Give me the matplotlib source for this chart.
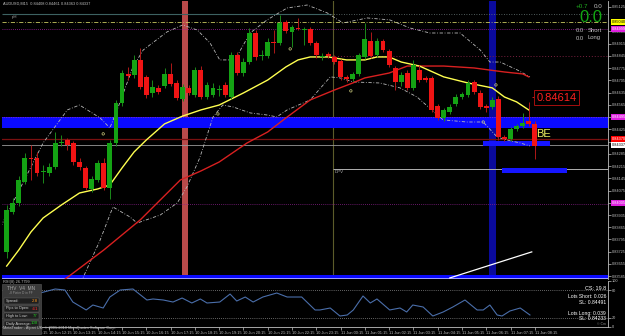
import matplotlib
matplotlib.use('Agg')
import matplotlib.pyplot as plt
from matplotlib.patches import Rectangle
from matplotlib.transforms import blended_transform_factory

plt.rcParams['font.family'] = ['Liberation Sans', 'DejaVu Sans']

# ---------------- data (AUDUSD M15) ----------------
opens = [0.83724, 0.83952, 0.84004, 0.84124, 0.84261, 0.84261, 0.84181, 0.84175, 0.84210, 0.84347,
         0.84364, 0.84347, 0.84238, 0.84204, 0.84084, 0.84135, 0.84233, 0.84090, 0.84347, 0.84576,
         0.84742, 0.84736, 0.84822, 0.84725, 0.84633, 0.84662, 0.84673, 0.84742, 0.84690, 0.84599,
         0.84662, 0.84622, 0.84765, 0.84610, 0.84622, 0.84650, 0.84679, 0.84610, 0.84850, 0.84747,
         0.84810, 0.84976, 0.84845, 0.84845, 0.84925, 0.84919, 0.85039, 0.84982, 0.85005, 0.84993,
         0.84999, 0.84919, 0.84839, 0.84856, 0.84839, 0.84816, 0.84725, 0.84713, 0.84742, 0.84839,
         0.84930, 0.84850, 0.84930, 0.84873, 0.84776, 0.84696, 0.84747, 0.84662, 0.84765, 0.84719,
         0.84719, 0.84559, 0.84490, 0.84524, 0.84570, 0.84610, 0.84622, 0.84696, 0.84633, 0.84559,
         0.84553, 0.84599, 0.84381, 0.84370, 0.84427, 0.84444, 0.84473, 0.84456]
highs = [0.83992, 0.84032, 0.84158, 0.84290, 0.84336, 0.84296, 0.84221, 0.84233, 0.84410, 0.84393,
         0.84376, 0.84358, 0.84261, 0.84215, 0.84158, 0.84250, 0.84261, 0.84364, 0.84593, 0.84765,
         0.84782, 0.84850, 0.84890, 0.84736, 0.84707, 0.84679, 0.84776, 0.84805, 0.84707, 0.84685,
         0.84679, 0.84782, 0.84787, 0.84696, 0.84690, 0.84679, 0.84696, 0.84868, 0.84868, 0.84833,
         0.85005, 0.84993, 0.84879, 0.84948, 0.84993, 0.85079, 0.85051, 0.85022, 0.85062, 0.85011,
         0.85011, 0.84930, 0.84862, 0.84868, 0.84850, 0.84827, 0.84736, 0.84753, 0.84862, 0.85033,
         0.84982, 0.84948, 0.84942, 0.84885, 0.84787, 0.84753, 0.84765, 0.84822, 0.84793, 0.84730,
         0.84730, 0.84570, 0.84547, 0.84570, 0.84627, 0.84639, 0.84707, 0.84707, 0.84650, 0.84570,
         0.84610, 0.84616, 0.84393, 0.84439, 0.84456, 0.84519, 0.84582, 0.84473]
lows = [0.83689, 0.83941, 0.83987, 0.84112, 0.84135, 0.84158, 0.84118, 0.84158, 0.84198, 0.84330,
        0.84307, 0.84221, 0.84193, 0.84078, 0.84067, 0.84124, 0.84078, 0.84027, 0.84330, 0.84559,
        0.84707, 0.84719, 0.84656, 0.84604, 0.84610, 0.84627, 0.84662, 0.84673, 0.84593, 0.84587,
        0.84622, 0.84610, 0.84599, 0.84599, 0.84610, 0.84616, 0.84610, 0.84599, 0.84736, 0.84730,
        0.84799, 0.84822, 0.84822, 0.84833, 0.84862, 0.84908, 0.84976, 0.84896, 0.84993, 0.84908,
        0.84908, 0.84833, 0.84822, 0.84833, 0.84799, 0.84707, 0.84696, 0.84702, 0.84730, 0.84827,
        0.84833, 0.84839, 0.84868, 0.84782, 0.84650, 0.84673, 0.84650, 0.84650, 0.84696, 0.84696,
        0.84524, 0.84479, 0.84473, 0.84513, 0.84559, 0.84599, 0.84610, 0.84627, 0.84542, 0.84524,
        0.84542, 0.84364, 0.84358, 0.84358, 0.84416, 0.84433, 0.84444, 0.84256]
closes = [0.83964, 0.84004, 0.84135, 0.84261, 0.84256, 0.84175, 0.84187, 0.84210, 0.84347, 0.84353,
          0.84336, 0.84238, 0.84210, 0.84090, 0.84141, 0.84233, 0.84090, 0.84347, 0.84576, 0.84747,
          0.84730, 0.84822, 0.84667, 0.84622, 0.84667, 0.84639, 0.84742, 0.84685, 0.84604, 0.84667,
          0.84633, 0.84765, 0.84610, 0.84679, 0.84662, 0.84656, 0.84622, 0.84850, 0.84747, 0.84810,
          0.84976, 0.84839, 0.84850, 0.84925, 0.84919, 0.85033, 0.84988, 0.85011, 0.84999, 0.84999,
          0.84919, 0.84850, 0.84845, 0.84845, 0.84810, 0.84725, 0.84713, 0.84742, 0.84850, 0.84942,
          0.84845, 0.84930, 0.84879, 0.84793, 0.84696, 0.84736, 0.84662, 0.84793, 0.84707, 0.84707,
          0.84536, 0.84490, 0.84536, 0.84553, 0.84610, 0.84627, 0.84690, 0.84639, 0.84553, 0.84547,
          0.84593, 0.84381, 0.84370, 0.84427, 0.84444, 0.84461, 0.84456, 0.84330]

# fast MA (yellow)
fast_ma_bars = [0, 2, 4, 6, 9, 12, 15, 17, 19, 21, 23, 26, 29, 32, 35, 39, 43, 46, 48, 50,
                53, 56, 59, 61, 63, 65, 68, 72, 76, 80, 82, 84, 86]
fast_ma = [0.83643, 0.83735, 0.83838, 0.83918, 0.83992, 0.84061, 0.84084, 0.84107, 0.84204, 0.84296,
           0.84364, 0.84456, 0.84501, 0.84536, 0.84564, 0.84633, 0.84707, 0.84782, 0.84822, 0.84839,
           0.84839, 0.84822, 0.84822, 0.84839, 0.84839, 0.84810, 0.84787, 0.84725, 0.84690, 0.84662,
           0.84610, 0.84582, 0.84536]
# slow MA (red)
slow_ma_bars = [9, 16, 22, 28.6, 32, 35, 39.6, 43, 46, 50, 54, 57, 59, 63, 66, 72, 77, 82, 85, 86]
slow_ma = [0.83552, 0.83735, 0.83907, 0.84135, 0.84187, 0.84238, 0.84347, 0.84410, 0.84490, 0.84593,
           0.84650, 0.84690, 0.84719, 0.84747, 0.84787, 0.84787, 0.84776, 0.84753, 0.84742, 0.84725]
# envelope / bands (dash-dot)
upper_bars = [-1, 6, 10, 12, 15.4, 17, 18.2, 20.8, 22.5, 26.4, 29, 31.4, 33.5, 35.1, 37.6, 40.1,
              42.9, 46.2, 49.5, 52.8, 55.4, 59.4, 63.1, 66.4, 69.7, 74.7, 78, 79.6, 81.3, 84.1, 86.2]
upper_band = [0.83867, 0.84347, 0.84536, 0.84564, 0.84490, 0.84433, 0.84536, 0.84782, 0.84879, 0.84982,
              0.85022, 0.84993, 0.84919, 0.84822, 0.84822, 0.84976, 0.85051, 0.85119, 0.85136, 0.85091,
              0.85033, 0.85062, 0.85051, 0.85005, 0.84976, 0.84976, 0.84879, 0.84810, 0.84810, 0.84765,
              0.84725]
lower_bars = [10, 12.4, 15.4, 17.5, 20.3, 21.5, 25.3, 28.1, 29.7, 31.8, 34, 35.6, 37.3, 40.1, 42.9,
              44.5, 46.2, 50, 53.3, 54.9, 57.1, 61.5, 64.8, 67.6, 71.9, 75.8, 78.5, 80.8, 82.4, 84.6, 86.2]
lower_band = [0.83449, 0.83563, 0.83792, 0.83981, 0.83924, 0.83889, 0.83935, 0.84004, 0.84096, 0.84261,
              0.84496, 0.84564, 0.84553, 0.84519, 0.84507, 0.84496, 0.84536, 0.84593, 0.84725, 0.84719,
              0.84696, 0.84690, 0.84662, 0.84610, 0.84479, 0.84467, 0.84467, 0.84381, 0.84364, 0.84347,
              0.84330]
# fractal-like markers
marker_bars = [15.9, 34.8, 46.7, 56.7, 78.5, 80.6]
marker_prices = [0.84399, 0.84513, 0.84885, 0.84645, 0.84467, 0.84679]
# trend line
trend_bars = [73.0, 86.5]
trend_prices = [0.83575, 0.83724]

# oscillator (lower panel)
osc_bars = [0, 5.5, 8, 9.6, 10.9, 13.1, 14.2, 15.9, 17, 18.7, 20.8, 23.1, 24.1, 25.8, 27.4, 28.9, 30.5,
            31.9, 33, 35.1, 36.8, 37.9, 39.3, 40.6, 42.2, 44.5, 46.2, 48.6, 50.8, 51.6, 53.3, 54.9,
            56.1, 57.1, 58.7, 59.9, 61, 63.1, 64.8, 65.9, 66.9, 68.6, 70.2, 71.9, 73.5, 75.5, 77.5,
            78.5, 79.6, 80.8, 81.6, 82.9, 84.6, 86.2]
osc_vals = [73.9, 73.9, 82.6, 80.4, 54.3, 37.0, 47.8, 41.3, 65.2, 80.4, 82.6, 58.7, 60.9, 58.7, 54.3,
            63.0, 52.2, 60.9, 52.2, 54.3, 71.7, 56.5, 65.2, 54.3, 65.2, 73.9, 65.2, 65.2, 37.0, 37.0,
            41.3, 23.9, 26.1, 37.0, 67.4, 52.2, 60.9, 37.0, 41.3, 32.6, 47.8, 43.5, 23.9, 32.6, 43.5,
            58.7, 37.0, 37.0, 47.8, 26.1, 23.9, 34.8, 41.3, 26.1]

price_ticks = [0.85125, 0.84985, 0.84915, 0.84845, 0.84775, 0.84705, 0.84635, 0.84565,
               0.84495, 0.84425, 0.84355, 0.84285, 0.84215, 0.84145, 0.84075, 0.84005, 0.83935,
               0.83865, 0.83795, 0.83725, 0.83655, 0.83585]
time_tick_bars = [-0.6, 3, 7, 11, 15, 19, 23, 27, 31, 35, 39, 43, 47, 51, 55, 59, 63, 67, 71, 75, 79, 83, 87]
time_labels = ['10 Jun 2010', '10 Jun 11:15', '10 Jun 12:15', '10 Jun 13:15', '10 Jun 14:15',
               '10 Jun 15:15', '10 Jun 16:15', '10 Jun 17:15', '10 Jun 18:15', '10 Jun 19:15',
               '10 Jun 20:15', '10 Jun 21:15', '10 Jun 22:15', '10 Jun 23:15', '11 Jun 00:15',
               '11 Jun 01:15', '11 Jun 02:15', '11 Jun 03:15', '11 Jun 04:15', '11 Jun 05:15',
               '11 Jun 06:15', '11 Jun 07:15', '11 Jun 08:15']

# ---------------- figure ----------------
W, H = 625, 336
fig = plt.figure(figsize=(W / 100, H / 100), dpi=100, facecolor='black')


def rect(x0, y0, x1, y1):
    return [x0 / W, 1 - y1 / H, (x1 - x0) / W, (y1 - y0) / H]


def ftext(x, y, s, **kw):
    return fig.text(x / W, 1 - y / H, s, **kw)


GRAY = '#c0c0c0'
ax = fig.add_axes(rect(2, 1, 608, 279))
ax.set_facecolor('black')
ax.set_xlim(-0.77, 99.06)
ax.set_ylim(0.83569, 0.85159)
for s in ['left', 'top']:
    ax.spines[s].set_visible(False)
ax.spines['right'].set_color(GRAY)
ax.spines['right'].set_linewidth(0.6)
ax.spines['bottom'].set_visible(False)
ax.set_xticks([])
ax.yaxis.tick_right()
ax.set_yticks(price_ticks)
ax.set_yticklabels([f'{v:.5f}' for v in price_ticks])
ax.tick_params(axis='y', colors=GRAY, labelsize=2.8, length=2, width=0.5, pad=1)

# vertical bands
ax.axvspan(28.9, 29.9, color='#b94a4a', zorder=1, lw=0)
ax.axvspan(79.5, 80.6, color='#0a0a9c', zorder=1, lw=0)
ax.axvline(53.75, color='#5c5c2a', lw=0.8, zorder=1)

# horizontal levels
ax.hlines(0.85085, -0.77, 53.4, color='#3d6262', lw=0.8, zorder=2)
ax.hlines(0.85085, 53.4, 99.06, color='#6a7a7a', lw=0.6, linestyles=(0, (1, 2)), zorder=2)
ax.axhline(0.85039, color='#c8c860', lw=0.6, linestyle=(0, (5, 2, 1, 2)), zorder=2)
ax.axhline(0.84999, color='#a020a0', lw=0.6, linestyle=(0, (1, 1.5)), zorder=2)
ax.hlines(0.84845, 52.1, 99.06, color='#7a2040', lw=0.7, linestyles=(0, (1, 2)), zorder=2)
ax.axhspan(0.84433, 0.84496, color='#0a0aff', lw=0, zorder=2)
ax.axhline(0.84496, color='#c040c0', lw=0.5, linestyle=(0, (1, 1.5)), zorder=3)
ax.axhline(0.84367, color='#7a1010', lw=0.9, zorder=2)
ax.axhline(0.84337, color='#9a9a9a', lw=0.6, zorder=2)
ax.hlines(0.84198, 53.75, 99.06, color='#b0b0b0', lw=0.7, zorder=2)
ax.axhline(0.84000, color='#8a208a', lw=0.6, linestyle=(0, (1, 1.5)), zorder=2)
ax.axhspan(0.83569, 0.83592, color='#0a0aff', lw=0, zorder=2)
ax.axhline(0.83572, color='#b8b8ff', lw=0.6, zorder=3)
ax.add_patch(Rectangle((78.5, 0.84330), 11.0, 0.00028, color='#1515ff', lw=0, zorder=3))
ax.add_patch(Rectangle((81.6, 0.84175), 10.7, 0.00029, color='#1515ff', lw=0, zorder=3))

# bands and MAs
ax.plot(upper_bars, upper_band, color='#b8b8b8', lw=0.6, linestyle=(0, (4, 2, 1, 2)), zorder=4)
ax.plot(lower_bars, lower_band, color='#b8b8b8', lw=0.6, linestyle=(0, (4, 2, 1, 2)), zorder=4)
ax.plot(slow_ma_bars, slow_ma, color='#d82020', lw=1.0, zorder=5)
ax.plot(fast_ma_bars, fast_ma, color='#ffff50', lw=1.0, zorder=6)
ax.plot(trend_bars, trend_prices, color='white', lw=0.9, zorder=5)
ax.scatter(marker_bars, marker_prices, s=3, facecolors='none', edgecolors='#d0d080', lw=0.5, zorder=6)

# candles
idx = list(range(len(opens)))
up = [c >= o for o, c in zip(opens, closes)]
body_col = ['#14a314' if u else '#f01414' for u in up]
wick_col = ['#1a8a1a' if u else '#b01818' for u in up]
bottoms = [min(o, c) for o, c in zip(opens, closes)]
heights = [max(abs(c - o), 0.00003) for o, c in zip(opens, closes)]
ax.vlines(idx, lows, highs, colors=wick_col, lw=0.7, zorder=7)
ax.bar(idx, heights, bottom=bottoms, width=0.8, color=body_col, lw=0, zorder=8)

# labels on chart
ax.text(87.0, 0.84607, '-', color='#ff2020', fontsize=8, ha='right', va='center', zorder=9)
ax.text(90.6, 0.84607, '0.84614', color='#ff2020', fontsize=8, ha='center', va='center', zorder=9,
        bbox=dict(boxstyle='square,pad=0.2', fc='black', ec='#c01010', lw=0.6))
ax.text(88.4, 0.84399, 'BE', color='#f0f060', fontsize=8, ha='center', va='center', zorder=9)
ax.text(54.1, 0.84181, 'DPV', color='#b0b0b0', fontsize=3.2, ha='left', va='center', zorder=9)

# highlighted price labels
bt = blended_transform_factory(ax.transAxes, ax.transData)
hl = [(0.85040, '#ffff00', 'black'), (0.84999, '#e020e0', 'white'), (0.84495, '#e020e0', 'white'),
      (0.84370, '#ff0000', 'white'), (0.84337, '#ffffff', 'black'), (0.84005, '#e020e0', 'white')]
for p, bg, fg in hl:
    ax.text(1.006, p, f'{p:.5f}', transform=bt, fontsize=2.8, color=fg, ha='left', va='center',
            bbox=dict(boxstyle='square,pad=0.25', fc=bg, ec='none'), zorder=10, clip_on=False)

# ---------------- oscillator panel ----------------
ax2 = fig.add_axes(rect(2, 281, 608, 327))
ax2.set_facecolor('black')
ax2.set_xlim(-0.77, 99.06)
ax2.set_ylim(0, 100)
for s in ['left', 'top']:
    ax2.spines[s].set_visible(False)
ax2.spines['right'].set_color(GRAY)
ax2.spines['right'].set_linewidth(0.6)
ax2.spines['bottom'].set_color(GRAY)
ax2.spines['bottom'].set_linewidth(0.6)
ax2.yaxis.tick_right()
ax2.set_yticks([100, 80, 20, 0])
ax2.set_yticklabels(['100', '80', '20', '0'])
ax2.tick_params(axis='y', colors=GRAY, labelsize=2.8, length=2, width=0.5, pad=1)
ax2.set_xticks(time_tick_bars)
ax2.set_xticklabels(time_labels, ha='left')
ax2.tick_params(axis='x', colors=GRAY, labelsize=2.8, length=2, width=0.5, pad=1)
ax2.axhline(80, color=GRAY, lw=0.5, linestyle=(0, (1, 2)))
ax2.axhline(20, color=GRAY, lw=0.5, linestyle=(0, (1, 2)))
ax2.plot(osc_bars, osc_vals, color='#4a6eaa', lw=0.8)

# ---------------- texts ----------------
ftext(3, 4, 'AUDUSD,M15  0.84408 0.84461 0.84363 0.84337', color=GRAY, fontsize=2.8, va='center')
ftext(12, 17, 'pH', color='#a0a0a0', fontsize=3.2, va='center')
ftext(588, 6, '+0.7', color='#20b020', fontsize=4.5, va='center', ha='right')
ftext(602, 6, '0.0', color=GRAY, fontsize=4.5, va='center', ha='right')
ftext(602, 18, '0.0', color='#12a812', fontsize=12, va='center', ha='right')
ftext(584, 30, '0.0', color=GRAY, fontsize=4.2, va='center', ha='right')
ftext(588, 30, 'Short', color=GRAY, fontsize=4.2, va='center', ha='left')
ftext(584, 38, '0.0', color=GRAY, fontsize=4.2, va='center', ha='right')
ftext(588, 38, 'Long', color=GRAY, fontsize=4.2, va='center', ha='left')

ftext(3, 282.5, 'RSI(8) 26.7799', color=GRAY, fontsize=2.8, va='center')
ftext(606, 289, 'CS: 19.8', color='white', fontsize=4, va='center', ha='right')
ftext(606, 297, 'Lots Short: 0.026', color='white', fontsize=3.6, va='center', ha='right')
ftext(606, 303, 'SL: 0.84491', color='white', fontsize=3.6, va='center', ha='right')
ftext(606, 313, 'Lots Long: 0.039', color='white', fontsize=3.6, va='center', ha='right')
ftext(606, 319, 'SL: 0.84233', color='white', fontsize=3.6, va='center', ha='right')
ftext(606, 324, '© Cm', color='#909090', fontsize=2.4, va='center', ha='right')

# info box
fig.patches.append(Rectangle((2 / W, 1 - 334 / H), 39 / W, 50 / H, transform=fig.transFigure,
                             fc='#3a3a3a', ec='#5a5a5a', lw=0.4, zorder=5))
ftext(21, 288, 'THV  V4  MN', color='#a8a8a8', fontsize=3.4, va='center', ha='center', zorder=6)
ftext(21, 292.5, '-8 Pieter D in FF', color='#909090', fontsize=2.3, va='center', ha='center', zorder=6)
rows = [(301, 'Spread:', '2.8', '#ff9a20'), (308.5, 'Pips to Open:', '-61', '#ff3030'),
        (316, 'High to Low:', '77', '#20c020'), (323.5, 'Daily Average:', '108', '#20c020')]
for yy, lab, val, col in rows:
    fig.patches.append(Rectangle((4 / W, 1 - (yy + 3) / H), 35 / W, 6 / H, transform=fig.transFigure,
                                 fc='#1e1e1e', ec='#6a6a6a', lw=0.3, zorder=6))
    ftext(6, yy, lab, color='#d0d0d0', fontsize=2.8, va='center', zorder=7)
    ftext(38, yy, val, color=col, fontsize=3.2, va='center', ha='right', zorder=7)
ftext(3, 327.5, 'MetaTrader - Alpari UK, © 2001-2010 MetaQuotes Software Corp.', color=GRAY,
      fontsize=2.8, va='center', zorder=8)

fig.savefig('out.png', dpi=100, facecolor='black')
